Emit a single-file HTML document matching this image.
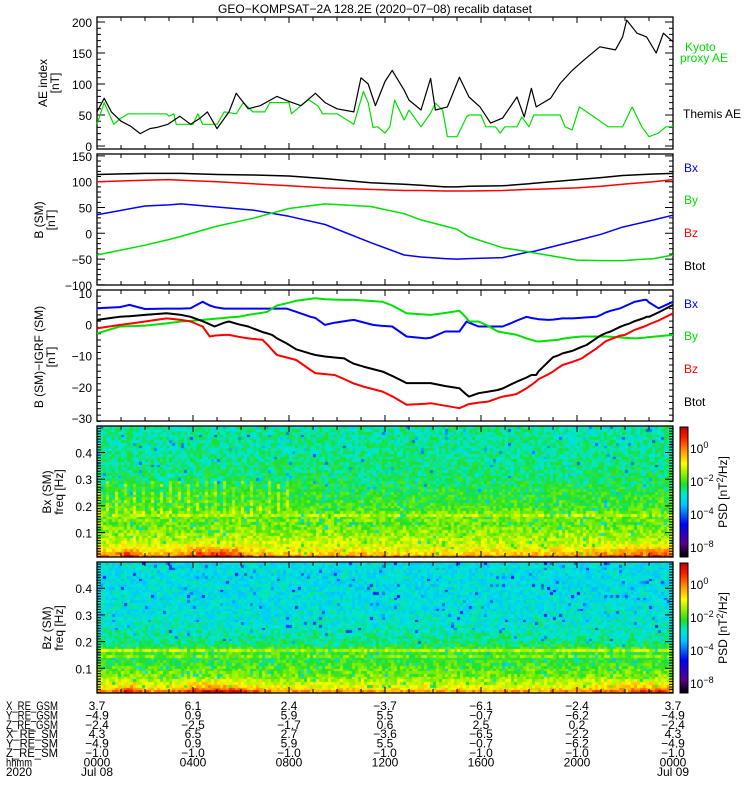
<!DOCTYPE html>
<html><head><meta charset="utf-8">
<style>
body{margin:0;background:#fff;}
#wrap{position:relative;width:750px;height:800px;overflow:hidden;background:#fff;}
svg{position:absolute;left:0;top:0;}
canvas{position:absolute;}
text{font-family:"Liberation Sans",sans-serif;font-size:12px;}
</style></head>
<body>
<div id="wrap">
<canvas id="spec1" width="576" height="131" style="left:97px;top:426px"></canvas>
<canvas id="spec2" width="576" height="131" style="left:97px;top:562px"></canvas>
<canvas id="cbar1" width="8" height="130" style="left:680px;top:427px"></canvas>
<canvas id="cbar2" width="8" height="130" style="left:680px;top:563px"></canvas>
<svg id="svg" width="750" height="800" xmlns="http://www.w3.org/2000/svg"></svg>
</div>
<script>
// ---- data ----
const aeThemisT=[0,0.3,0.6,1,1.4,1.8,2.2,2.5,2.96,3.45,3.9,4.3,4.6,5.0,5.5,5.8,6.3,6.8,7.5,8.0,8.5,9.1,9.5,10,10.7,11.0,11.3,11.6,12.0,12.3,12.8,13.0,13.5,13.9,14.1,14.6,15.1,15.5,15.96,16.4,16.9,17.5,17.8,18.1,18.3,18.9,19.3,19.8,20.3,20.95,21.6,21.9,22.07,22.5,22.9,23.3,23.6,24];
const aeThemisV=[55,77,55,40,32,20,28,30,35,48,35,45,55,28,55,85,60,65,80,72,65,85,70,60,55,110,100,65,104,122,90,74,58,109,58,63,111,79,63,37,45,79,47,93,63,77,101,122,139,160,155,176,203,182,176,150,182,168];
const aeKyotoT=[0,0.3,0.7,1.0,1.3,2.9,3.0,3.2,3.3,4.0,4.2,4.4,5.0,5.3,5.8,6.1,6.5,7.0,7.2,8.0,8.1,8.8,9.2,9.4,10.0,10.7,11.1,11.3,11.5,11.7,12.0,12.2,12.4,12.8,13.0,13.5,13.9,14.1,14.4,14.6,15.0,15.4,15.5,16.0,16.2,16.6,16.8,17.0,17.5,17.7,18.0,18.2,18.4,19.3,19.5,19.8,20.1,21.3,21.9,22.3,22.7,23.0,23.4,23.7,24];
const aeKyotoV=[35,70,35,45,52,52,48,52,35,35,52,35,35,55,52,70,55,55,70,70,52,75,65,52,52,35,88,70,30,31,21,31,74,42,58,31,53,69,58,15,15,47,50,50,31,31,21,31,31,47,31,50,50,50,31,26,63,31,31,63,31,15,21,31,31];
const bT=[0,2,3,3.5,5,6.5,8,9.5,11.4,12.8,13.5,14.5,15,15.5,16.9,18,18.2,20,21,21.9,23.2,24];
const bxV=[36,53,55,57,51,45,33,17,-18,-42,-46,-49,-50,-49,-47,-36,-35,-14,-2,12,26,35];
const byV=[-42,-23,-12,-6,14,29,48,57,52,38,26,14,8,-7,-28,-36,-38,-52,-53,-53,-49,-42];
const bzV=[100,103,104,103,100,96,92,88,85,83,83,82,82,82,83,85,85,88,91,95,100,104];
const btV=[114,116,116,116,114,113,111,106,98,95,93,90,90,91,92,96,97,104,108,112,115,116];
const dT=[0,0.95,1.35,2,2.9,3.5,3.9,4.4,4.7,4.9,5.3,5.5,5.9,6.3,6.9,7.1,7.3,7.5,7.9,8.3,8.9,9.1,9.5,9.9,10.3,10.5,10.7,11.1,11.5,11.9,12.3,12.9,13.7,13.9,14.5,15.1,15.4,15.5,15.9,16.3,16.7,16.9,17.3,17.5,17.9,18.1,18.3,18.4,18.8,19.0,19.2,19.4,19.8,20.2,20.4,20.8,21.0,21.2,21.4,21.8,22.0,22.2,22.4,22.8,22.9,23.0,23.4,24];
const dBx=[5.1,5.5,6.2,4.9,5.0,5.0,5.1,7.2,6.0,5.5,5.0,5.0,5.0,5.0,5.0,5.0,5.0,5.0,5.0,4.0,2.4,2.0,-0.2,0.5,1.0,1.2,1.4,0.6,-0.2,-0.5,-0.7,-3.9,-4.5,-4.3,-2.3,-2.3,0.9,0.5,-0.7,-0.7,-0.7,-0.7,0.5,1.2,2.4,2.0,1.8,1.6,1.4,1.5,1.7,1.9,1.9,2.1,2.2,2.4,3.0,3.8,4.3,5.1,5.8,6.5,7.2,7.8,7.8,7.0,5.1,7.2];
const dBy=[-2.9,-0.7,-0.6,-0.4,0.3,0.9,1.1,1.4,1.6,1.8,2.0,2.2,2.4,3.0,3.7,4.0,5.0,6.0,6.7,7.5,8.1,8.3,8.0,7.9,7.8,7.8,7.8,7.6,7.4,7.2,6.0,3.5,3.1,3.0,3.6,4.3,2.0,0.9,0.9,-0.5,-2.3,-2.6,-3.1,-3.4,-4.5,-5.0,-5.4,-5.5,-5.2,-5.1,-5.0,-4.6,-4.2,-3.9,-3.9,-3.9,-3.9,-3.9,-4.0,-4.2,-4.3,-4.4,-4.5,-4.3,-4.2,-4.1,-3.8,-3.4];
const dBt=[1.4,2.4,2.6,3.0,3.5,3.0,2.4,1.0,0.0,-0.7,0.5,0.9,0.0,-0.7,-2.5,-2.9,-3.4,-4.5,-6.1,-8.0,-9.4,-9.8,-10.3,-10.6,-10.9,-11.8,-12.6,-13.5,-14.3,-15.1,-16.5,-18.8,-18.8,-18.8,-19.7,-20.4,-22.5,-23.1,-22.0,-21.5,-21.0,-20.5,-19.0,-18.3,-17.0,-16.2,-16.2,-15.0,-12.0,-10.5,-10.0,-9.3,-8.5,-7.2,-6.6,-4.5,-3.5,-2.8,-2.3,-0.8,-0.2,0.3,1.0,2.0,2.4,2.4,3.8,6.2];
const dBz=[-1.3,-0.2,0.2,0.9,1.9,1.4,0.9,-0.7,-3.9,-3.6,-3.4,-3.4,-4.0,-4.5,-5.0,-6.5,-8.2,-9.8,-10.6,-11.4,-14.6,-15.6,-15.9,-16.2,-17.5,-18.2,-18.9,-19.9,-20.7,-21.5,-23.0,-25.7,-25.4,-25.2,-26.0,-26.8,-25.8,-25.5,-25.0,-24.7,-23.6,-23.1,-22.6,-22.2,-20.4,-19.4,-18.2,-17.5,-16.0,-15.1,-14.0,-13.0,-12.0,-10.9,-9.8,-7.8,-6.6,-5.4,-4.8,-3.6,-3.4,-2.6,-1.8,-0.7,-0.4,0.0,1.2,3.5];
// spectrogram data: colour-scale level (0..1 of colorbar) vs frequency, and low-frequency power vs time
const specFreq=[0.01,0.02,0.03,0.05,0.07,0.1,0.13,0.145,0.15,0.16,0.17,0.18,0.2,0.25,0.3,0.4,0.5];
const bxLevel=[0.86,0.79,0.74,0.7,0.67,0.64,0.61,0.6,0.64,0.6,0.69,0.6,0.58,0.56,0.53,0.51,0.5];
const bzLevel=[0.86,0.77,0.72,0.67,0.63,0.6,0.56,0.56,0.67,0.55,0.69,0.55,0.52,0.48,0.46,0.45,0.45];
const lowT=[0,0.8,1.2,1.6,2.2,3,3.6,4.2,5,5.8,6.4,7,8,9,10,11,12,14,16,18,20,21.5,22.5,23.5,24];
const lowBoost=[0.0,0.02,0.1,0.06,0.0,0.0,0.04,0.09,0.11,0.08,0.04,0.02,0.0,0.0,0.01,0.0,0.0,0.0,0.0,0.0,0.01,0.04,0.06,0.08,0.05];
const rowLabels=["X_RE_GSM","Y_RE_GSM","Z_RE_GSM","X_RE_SM","Y_RE_SM","Z_RE_SM","hhmm","2020"];
const rowVals=[["3.7","6.1","2.4","−3.7","−6.1","−2.4","3.7"],["−4.9","0.9","5.9","5.5","−0.7","−6.2","−4.9"],["−2.4","−2.5","−1.7","0.6","2.5","0.2","−2.4"],["4.3","6.5","2.7","−3.6","−6.5","−2.2","4.3"],["−4.9","0.9","5.9","5.5","−0.7","−6.2","−4.9"],["−1.0","−1.0","−1.0","−1.0","−1.0","−1.0","−1.0"],["0000","0400","0800","1200","1600","2000","0000"],["Jul 08","","","","","","Jul 09"]];

// ---- scales ----
const X0=97,X1=673;
const xS=h=>X0+h*(X1-X0)/24;
const y1=v=>146-v*0.62;
const y2=v=>233.3-v*0.516;
const y3=v=>293+(10-v)*3.13;
const yf1=f=>559.3-f*267;
const yf2=f=>695-f*267;
const svg=document.getElementById('svg');
const NS='http://www.w3.org/2000/svg';
function mk(tag,attrs,parent){const e=document.createElementNS(NS,tag);for(const k in attrs)e.setAttribute(k,attrs[k]);(parent||svg).appendChild(e);return e;}
function txt(x,y,s,opt,parent){const t=mk('text',Object.assign({x:x,y:y},opt||{}),parent);t.textContent=s;return t;}

function panel(name,top,bot,yScale,lo,hi,major,minor,fmt){
  const g=mk('g',{});
  
  
  const fr=mk('rect',{x:X0,y:top,width:X1-X0,height:bot-top,fill:'none',stroke:'#000','stroke-width':1.3},g);
  
  
  let d='';
  for(let h=0;h<=24;h++){const L=(h%4==0)?6:4;const x=xS(h);d+=`M${x},${bot}v${-L}M${x},${top}v${L}`;}
  const n=Math.round((hi-lo)/minor);
  for(let i=0;i<=n;i++){const v=lo+i*minor;const y=yScale(v);if(y<top-0.5||y>bot+0.5)continue;
    const isMaj=Math.abs(v/major-Math.round(v/major))<1e-6;const L=isMaj?8:4;
    d+=`M${X0},${y}h${L}M${X1},${y}h${-L}`;}
  const tk=mk('path',{d:d,stroke:'#000','stroke-width':1,fill:'none'},g);
  
  
  for(let v=Math.ceil(lo/major)*major;v<=hi+1e-9;v+=major){const y=yScale(v);if(y<top-1||y>bot+1)continue;
    const t=txt(92,y+5,fmt(v),{'text-anchor':'end','font-size':'13px'},g);
    
    }
  return g;
}
function line(name,ts,vs,yScale,color,w){
  let d='';ts.forEach((t,i)=>{d+=(i?'L':'M')+xS(t).toFixed(1)+','+yScale(vs[i]).toFixed(1);});
  const p=mk('path',{d:d,stroke:color,'stroke-width':w,fill:'none','stroke-linejoin':'round'});
  
  
}
function ylab(name,x,y,lines){
  const g=mk('g',{transform:`translate(${x},${y}) rotate(-90)`});
  
  
  lines.forEach((s,i)=>txt(0,i*12,s,{'text-anchor':'middle','font-size':'12px'},g));
}
function lab(name,x,y,s,color,size){const t=txt(x,y,s,{fill:color,'font-size':(size||12)+'px'});
  
  }

const intf=v=>(v<0?'−':'')+Math.abs(v);
const ti=txt(375,13,'GEO−KOMPSAT−2A 128.2E (2020−07−08) recalib dataset',{'text-anchor':'middle','font-size':'13px'});



panel('ae-panel',17,149,y1,0,200,50,10,intf);
line('kyoto-ae-line',aeKyotoT,aeKyotoV,y1,'#00e000',1.2);
line('themis-ae-line',aeThemisT,aeThemisV,y1,'#000',1.2);
ylab('ae-y-title',47,83,['AE index','[nT]']);
lab('legend-kyoto',685,51,'Kyoto','#00dd00');
lab('legend-kyoto2',680,62,'proxy AE','#00dd00');
lab('legend-themis',683,118,'Themis AE','#000');

panel('b-sm-panel',154,285,y2,-100,150,50,10,intf);
line('bx-line',bT,bxV,y2,'#0000ff',1.5);
line('by-line',bT,byV,y2,'#00e000',1.5);
line('bz-line',bT,bzV,y2,'#ff0000',1.5);
line('btot-line',bT,btV,y2,'#000',1.5);
ylab('b-sm-y-title',43,220,['B (SM)','[nT]']);
lab('legend-bx',684,172,'Bx','#0000ff');
lab('legend-by',684,204,'By','#00dd00');
lab('legend-bz',684,237,'Bz','#ff0000');
lab('legend-btot',684,270,'Btot','#000');

panel('b-igrf-panel',290,421,y3,-31,11,10,2,intf);
line('dbx-line',dT,dBx,y3,'#0000ff',2);
line('dby-line',dT,dBy,y3,'#00e000',2);
line('dbt-line',dT,dBt,y3,'#000',2);
line('dbz-line',dT,dBz,y3,'#ff0000',2);
ylab('b-igrf-y-title',43,357,['B (SM)−IGRF (SM)','[nT]']);
lab('legend-dbx',684,308,'Bx','#0000ff');
lab('legend-dby',684,340,'By','#00dd00');
lab('legend-dbz',684,373,'Bz','#ff0000');
lab('legend-dbtot',684,406,'Btot','#000');

const stops=[[0,[0,0,0]],[0.1,[90,0,144]],[0.25,[0,0,255]],[0.4,[0,200,255]],[0.48,[0,232,210]],[0.56,[30,224,40]],[0.64,[150,240,0]],[0.72,[255,255,0]],[0.82,[255,150,0]],[0.92,[255,30,0]],[1,[190,0,0]]];
function cmap(v){v=Math.max(0,Math.min(1,v));for(let i=1;i<stops.length;i++){if(v<=stops[i][0]){const a=stops[i-1],b=stops[i];const t=(v-a[0])/(b[0]-a[0]);return a[1].map((c,k)=>Math.round(c+(b[1][k]-c)*t));}}return stops[stops.length-1][1];}
function interp(xs,ys,x){if(x<=xs[0])return ys[0];for(let i=1;i<xs.length;i++){if(x<=xs[i]){const t=(x-xs[i-1])/(xs[i]-xs[i-1]);return ys[i-1]+(ys[i]-ys[i-1])*t;}}return ys[ys.length-1];}
function hash(a,b,s){let h=(a*374761393+b*668265263+s*982451653)|0;h=(h^(h>>>13))*1274126177|0;h=h^(h>>>16);return ((h>>>0)%10000)/10000;}
function drawSpec(id,levels,yf,top,seed,stripe){
  const c=document.getElementById(id),ctx=c.getContext('2d');
  const nt=192,nf=48,fmin=0.01,fmax=0.5;
  for(let i=0;i<nt;i++){const h=(i+0.5)*24/nt;const boost=interp(lowT,lowBoost,h);
    for(let j=0;j<nf;j++){const f0=fmin+j*(fmax-fmin)/nf,f1=f0+(fmax-fmin)/nf,fc=(f0+f1)/2;
      let v=interp(specFreq,levels,fc);
      v+=boost*Math.max(0,1-(fc-0.01)/0.06)*1.6;
      if(stripe&&h<8&&fc>0.17&&fc<0.3&&(i%3==0))v+=0.07;
      const r=hash(i,j,seed);v+=(r-0.5)*0.12;
      if(hash(j,i,seed+7)<0.035)v-=0.14;
      const col=cmap(v);ctx.fillStyle=`rgb(${col[0]},${col[1]},${col[2]})`;
      const x0=xS(h-12/nt)-X0,x1=xS(h+12/nt)-X0;
      const ya=yf(f1)-top,yb=yf(f0)-top;
      ctx.fillRect(Math.floor(x0),Math.floor(ya),Math.ceil(x1-x0)+1,Math.ceil(yb-ya)+1);}}
}
drawSpec('spec1',bxLevel,yf1,426,1,true);
drawSpec('spec2',bzLevel,yf2,562,2,false);
['cbar1','cbar2'].forEach(id=>{const c=document.getElementById(id),ctx=c.getContext('2d');for(let y=0;y<130;y++){const col=cmap(1-y/129);ctx.fillStyle=`rgb(${col[0]},${col[1]},${col[2]})`;ctx.fillRect(0,y,8,1);}});
const ff=v=>v.toFixed(1);
panel('bx-spec-panel',426,557,yf1,0.0,0.49,0.1,0.01,ff);
panel('bz-spec-panel',562,693,yf2,0.0,0.49,0.1,0.01,ff);
ylab('bx-spec-y-title',51,492,['Bx (SM)','freq [Hz]']);
ylab('bz-spec-y-title',51,628,['Bz (SM)','freq [Hz]']);
const cbLabels=['0','−2','−4','−8'];
[[427,'cbar1'],[563,'cbar2']].forEach(([t,nm])=>{
  const r=mk('rect',{x:680,y:t,width:8,height:130,fill:'none',stroke:'#000','stroke-width':1});
  
  
  [22,55,88,121].forEach((dy,k)=>{const tt=txt(690,t+dy+4,'10',{'font-size':'12px'});
    
    
    const sp=mk('tspan',{dy:-5,'font-size':'9px'},tt);sp.textContent=cbLabels[k];});
  const g=mk('g',{transform:`translate(727,${t+65}) rotate(-90)`});
  
  
  const tt=txt(0,0,'PSD [nT',{'text-anchor':'middle','font-size':'12px'},g);
  const s1=mk('tspan',{dy:-4,'font-size':'9px'},tt);s1.textContent='2';
  const s2=mk('tspan',{dy:4},tt);s2.textContent='/Hz]';
});
rowLabels.forEach((s,r)=>{const y=710+r*9.4;
  const t=txt(6,y,s,{'font-size':'11px','textLength':s.length>6?52:s.length*6.5,'lengthAdjust':'spacingAndGlyphs'});
  
  
  rowVals[r].forEach((v,k)=>{if(!v)return;const tv=txt(xS(k*4),y,v,{'font-size':'11px','text-anchor':'middle'});
    
    });
});
</script>
</body></html>
